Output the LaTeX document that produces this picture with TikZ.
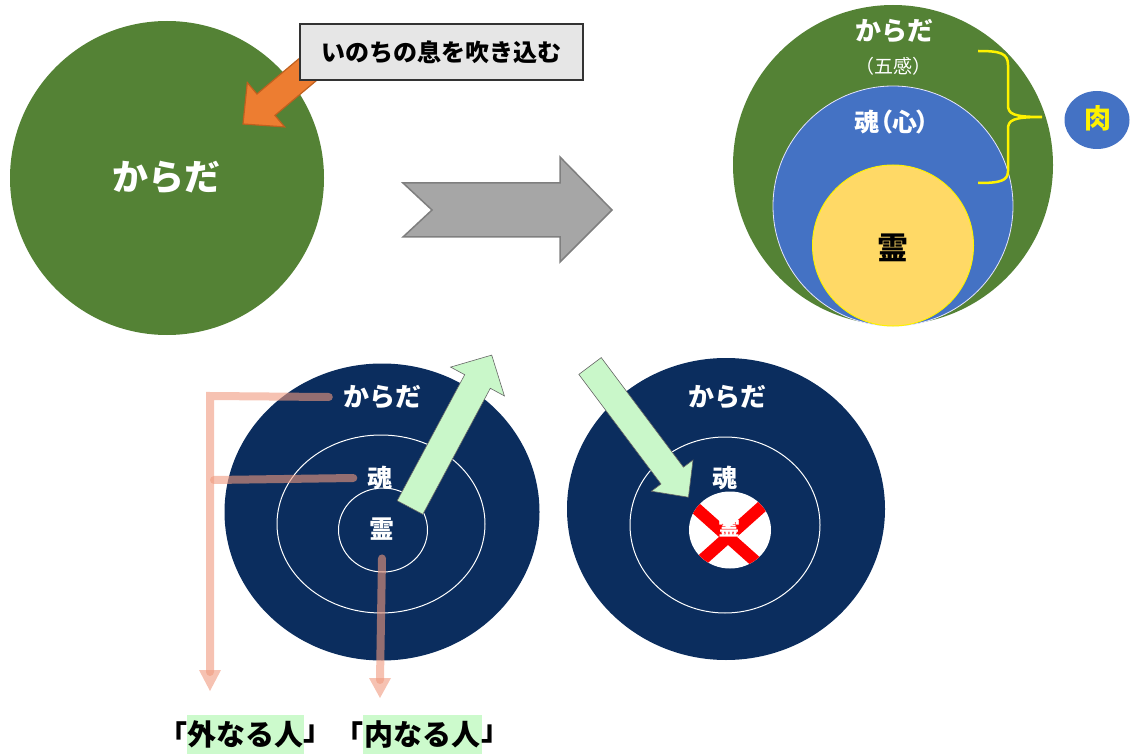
\documentclass[tikz,border=0pt]{standalone}
\usepackage{fontspec}
\setmainfont{Noto Sans CJK JP}
\newfontfamily\pfont{Noto Sans CJK JP}[RawFeature={+palt}]
\usetikzlibrary{shapes.geometric,arrows.meta}
\definecolor{bodygreen}{HTML}{548235}
\definecolor{soulblue}{HTML}{4472C4}
\definecolor{spirityellow}{HTML}{FFD966}
\definecolor{navy}{HTML}{0B2D5E}
\definecolor{lightgreen}{HTML}{C9F7C9}
\definecolor{hlgreen}{HTML}{CCFACC}
\definecolor{boxgray}{HTML}{E6E6E6}
\definecolor{arrowgray}{HTML}{A6A6A6}
\definecolor{arrowgrayline}{HTML}{7F7F7F}
\definecolor{orangefill}{HTML}{ED7D31}
\definecolor{orangeline}{HTML}{C0601E}
\definecolor{pinkline}{HTML}{F09A7E}
\newcommand{\fsz}[1]{\fontsize{#1pt}{#1pt}\selectfont\bfseries}
\tikzset{
  disk/.style={circle, inner sep=0pt, outer sep=0pt},
  oval/.style={ellipse, inner sep=0pt, outer sep=0pt},
  wtext/.style={text=white, inner sep=0pt},
  ktext/.style={text=black, inner sep=0pt},
  ring/.style={draw=white, line width=1pt},
  pinkconn/.style={draw=pinkline, draw opacity=0.6, line width=8pt, line cap=round},
  blockgreen/.style={fill=lightgreen, draw=black!60, line width=0.6pt, line join=miter},
}
\begin{document}
\begin{tikzpicture}[x=1pt,y=-1pt]
\useasboundingbox (0,0) rectangle (1135,754);

% ---------- top left ----------
\node[disk, fill=bodygreen, minimum size=314pt] (bodyA) at (167,178) {};
\node[wtext] (bodyAtxt) at (166,178) {\fsz{36}からだ};
% orange arrow
\filldraw[fill=orangefill, draw=orangeline, line width=1.2pt, line join=miter]
  (243,124) -- (284.6,126.9) -- (274.95,115.4) -- (328.5,70.4) -- (310.5,49.0)
  -- (256.95,94.0) -- (247.3,82.5) -- cycle;
\node[draw=black!80, fill=boxgray, line width=1.3pt, minimum width=283pt, minimum height=56pt, inner sep=0pt] (breath) at (441.5,52) {\fsz{24}いのちの息を吹き込む};

% ---------- big gray arrow ----------
\filldraw[fill=arrowgray, draw=arrowgrayline, line width=1.5pt, line join=miter]
  (403,183) -- (560,183) -- (560,157) -- (612,210) -- (560,262) -- (560,237)
  -- (403,237) -- (432,210) -- cycle;

% ---------- top right ----------
\node[disk, fill=bodygreen, minimum size=320pt] (bodyB) at (893,165) {};
\node[disk, fill=soulblue, draw=blue!10!white, line width=0.8pt, minimum size=240pt] (soulB) at (893,206) {};
\node[disk, fill=spirityellow, draw=yellow, line width=1pt, minimum size=161pt] (spiritB) at (893,245.5) {};
\node[wtext] (bodyBtxt) at (894,31) {\fsz{26}からだ};
\node[wtext] (senses) at (893,66) {\fontsize{19pt}{19pt}\selectfont （五感）};
\node[wtext] (soulBtxt) at (892,122) {\pfont\fsz{25}魂（心）};
\node[ktext] (spiritBtxt) at (893,248) {\fsz{31}霊};
\draw[yellow, line width=2.5pt]
  (978,51) .. controls (1000,51) and (1008,53) .. (1008,65) -- (1008,105)
  .. controls (1008,114) and (1013,117) .. (1042,117)
  .. controls (1013,117) and (1008,120) .. (1008,129) -- (1008,171)
  .. controls (1008,181) and (1000,183) .. (978,183);
\node[oval, fill=soulblue, minimum width=65pt, minimum height=58pt] (flesh) at (1097,120) {};
\node[text=yellow, inner sep=0pt] (fleshtxt) at (1098,118) {\fsz{27}肉};

% ---------- bottom left ----------
\node[oval, fill=navy, minimum width=315pt, minimum height=297pt] (outerL) at (382,512) {};
\node[oval, ring, minimum width=208pt, minimum height=178pt] (midL) at (381,524) {};
\node[oval, ring, minimum width=89pt, minimum height=84pt] (innL) at (383,530) {};
\node[wtext] (bodyLtxt) at (382,397) {\fsz{26}からだ};
\node[wtext] (soulLtxt) at (380,478) {\fsz{25}魂};
\node[wtext] (spiritLtxt) at (382,529) {\fsz{25}霊};

% pink connectors
\coordinate (outerEnd) at (210,691);
\coordinate (innerEnd) at (380,698);
\draw[pinkconn] ([xshift=-14pt]bodyLtxt.west) -- (210,396) -- (210,672);
\draw[pinkconn] ([xshift=-14pt]soulLtxt.west) -- (214,480);
\draw[pinkconn] ([yshift=-18pt]spiritLtxt.south) -- (380,680);
\fill[pinkline, fill opacity=0.6] (199,670) -- (221,670) -- (outerEnd) -- cycle;
\fill[pinkline, fill opacity=0.6] (369,678) -- (391,678) -- (innerEnd) -- cycle;

% green up arrow
\filldraw[blockgreen]
  (491.7,355.1) -- (504.4,395.9) -- (490.3,388.3) -- (422.8,514.3) -- (397.2,500.7)
  -- (464.7,374.7) -- (450.6,367.1) -- cycle;

% labels
\node[fill=hlgreen, inner sep=0pt, minimum height=39pt, minimum width=117pt] (outerMan) at (245.5,734.5) {\fsz{29}外なる人};
\node[ktext, anchor=east] (ob1) at ([xshift=1pt]outerMan.west) {\fsz{29}「};
\node[ktext, anchor=west] (ob2) at ([xshift=-1pt]outerMan.east) {\fsz{29}」};
\node[fill=hlgreen, inner sep=0pt, minimum height=39pt, minimum width=119pt] (innerMan) at (422.5,734.5) {\fsz{29}内なる人};
\node[ktext, anchor=east] (ib1) at ([xshift=1pt]innerMan.west) {\fsz{29}「};
\node[ktext, anchor=west] (ib2) at ([xshift=-1pt]innerMan.east) {\fsz{29}」};

% ---------- bottom right ----------
\node[oval, fill=navy, minimum width=318pt, minimum height=302pt] (outerR) at (726,509) {};
\node[oval, ring, minimum width=190pt, minimum height=176pt] (midR) at (725,525) {};
\node[oval, fill=white, minimum width=82pt, minimum height=77pt] (innR) at (730,530) {};
\begin{scope}
  \clip (730,530) ellipse [x radius=41pt, y radius=38.5pt];
  \draw[red, line width=12pt] (690,503) -- (764,569);
  \draw[red, line width=12pt] (767,502) -- (691,570);
\end{scope}
\node[wtext] (spiritRtxt) at (729,527) {\fsz{22}霊};
\node[wtext] (bodyRtxt) at (727,397) {\fsz{26}からだ};
\node[wtext] (soulRtxt) at (725,478) {\fsz{25}魂};

% green down arrow
\filldraw[blockgreen]
  (688.4,497.2) -- (651.4,491.2) -- (661.0,484.0) -- (578.8,374.4) -- (601.2,357.6)
  -- (683.4,467.2) -- (693.0,460.0) -- cycle;
\end{tikzpicture}
\end{document}
